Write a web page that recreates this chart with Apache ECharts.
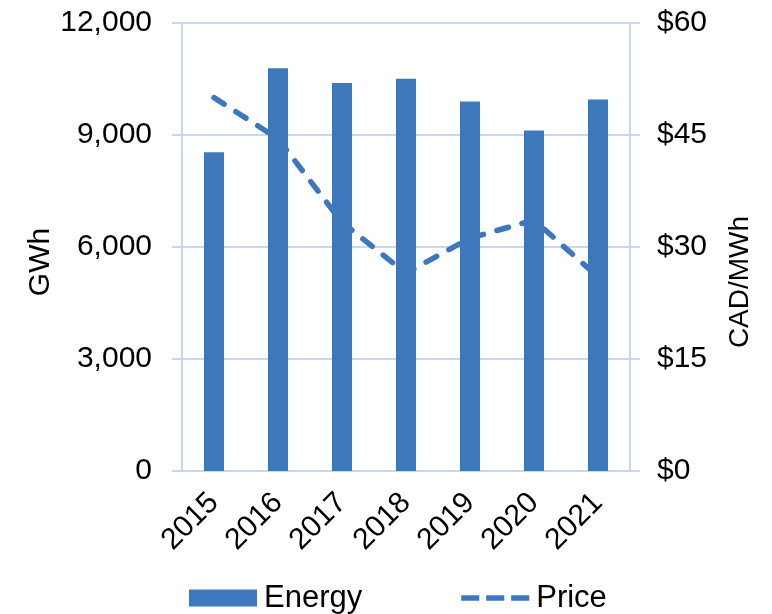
<!DOCTYPE html>
<html>
<head>
<meta charset="utf-8">
<script src="https://cdn.jsdelivr.net/npm/echarts@6/dist/echarts.min.js"></script>
<style>
  html, body { margin: 0; padding: 0; background: #fff; }
  #chart { width: 772px; height: 614px; }
</style>
</head>
<body>
<div id="chart"></div>
<script>
// data
const years = ['2015', '2016', '2017', '2018', '2019', '2020', '2021']
const energy = [8540, 10790, 10390, 10510, 9900, 9120, 9950]   // GWh
const price = [50, 44.5, 33.3, 26.5, 31.2, 33.6, 26]           // CAD/MWh

const blue = '#3E78BC'
const gridBlue = '#C6D9F1'
const font = 'Liberation Sans, Arial, sans-serif'

// three short dashes for the Price legend key
const dashIcon = 'path://M0,0h17v5h-17z M23.5,0h17v5h-17z M47,0h17v5h-17z'

const chart = echarts.init(document.getElementById('chart'))

const option = {
  backgroundColor: '#fff',
  animation: false,
  textStyle: { fontFamily: font },
  grid: { left: 182, right: 142, top: 23, bottom: 143, containLabel: false },
  legend: {
    left: 184,
    top: 577,
    itemWidth: 68,
    itemHeight: 17,
    itemGap: 99,
    textStyle: { fontSize: 31, lineHeight: 32, color: '#000', fontFamily: font, padding: [0, 0, 0, 2] },
    data: [
      { name: 'Energy', icon: 'rect' },
      { name: 'Price', icon: dashIcon, itemStyle: { color: blue } }
    ]
  },
  xAxis: {
    type: 'category',
    data: years,
    axisLine: { lineStyle: { color: gridBlue, width: 2 } },
    axisTick: { show: false },
    axisLabel: {
      rotate: 45,
      margin: 27,
      fontSize: 30,
      color: '#000',
      fontFamily: font
    }
  },
  yAxis: [
    {
      type: 'value',
      min: 0,
      max: 12000,
      interval: 3000,
      name: 'GWh',
      nameLocation: 'middle',
      nameRotate: 90,
      nameGap: 126,
      nameMoveOverlap: false,
      nameTextStyle: { fontSize: 30, color: '#000', fontFamily: font, padding: [0, 30, 0, 0] },
      axisLine: { show: true, lineStyle: { color: gridBlue, width: 2 } },
      axisTick: { show: true, length: 10, lineStyle: { color: gridBlue, width: 2 } },
      splitLine: { lineStyle: { color: gridBlue, width: 2 } },
      axisLabel: {
        margin: 30,
        fontSize: 30,
        color: '#000',
        fontFamily: font,
        formatter: v => v.toLocaleString('en-US')
      }
    },
    {
      type: 'value',
      min: 0,
      max: 60,
      interval: 15,
      name: 'CAD/MWh',
      nameLocation: 'middle',
      nameRotate: 90,
      nameGap: 96,
      nameTextStyle: { fontSize: 28, color: '#000', fontFamily: font, padding: [0, 70, 0, 0] },
      axisLine: { show: true, lineStyle: { color: gridBlue, width: 2 } },
      axisTick: { show: true, length: 10, lineStyle: { color: gridBlue, width: 2 } },
      splitLine: { show: false },
      axisLabel: {
        margin: 27,
        fontSize: 30,
        color: '#000',
        fontFamily: font,
        formatter: v => '$' + v
      }
    }
  ],
  series: [
    {
      name: 'Energy',
      type: 'bar',
      yAxisIndex: 0,
      barWidth: 20,
      itemStyle: { color: blue },
      data: energy
    },
    {
      name: 'Price',
      type: 'line',
      yAxisIndex: 1,
      symbol: 'none',
      lineStyle: { color: blue, width: 5.5, type: [12, 14], cap: 'round' },
      itemStyle: { color: blue },
      data: price
    }
  ]
}

chart.setOption(option)
</script>
</body>
</html>
